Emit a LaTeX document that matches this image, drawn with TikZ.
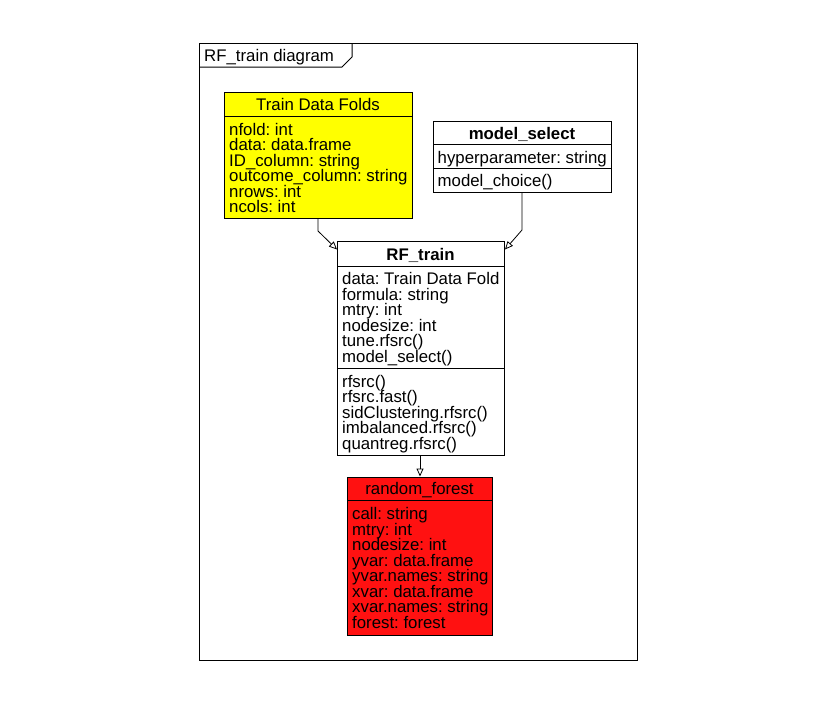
\documentclass[tikz,border=0pt]{standalone}
\usepackage{fontspec}
\setmainfont{Liberation Sans}
\usetikzlibrary{arrows.meta}
\definecolor{tdfyellow}{RGB}{255,255,0}
\definecolor{rfred}{RGB}{255,17,17}
\tikzset{
  box/.style={draw=black, line width=1pt, rectangle, inner sep=0pt, anchor=north west},
  sep/.style={draw=black, line width=1pt},
  txt/.style={inner sep=0pt, anchor=base west, font=\fontsize{16.8}{15.5}\selectfont\frenchspacing},
  ttl/.style={inner sep=0pt, anchor=base, font=\fontsize{16.8}{15.5}\selectfont\frenchspacing},
  bttl/.style={ttl, font=\fontsize{16.8}{15.5}\selectfont\bfseries},
  gen/.style={draw=black, line width=0.8pt, -{Triangle[open, length=8pt, width=7pt]}},
}
\begin{document}
\begin{tikzpicture}[x=1pt, y=-1pt]
\useasboundingbox (0,0) rectangle (834,702);
% frame
\node[draw=black, line width=1pt, rectangle, inner sep=0pt, anchor=north west, minimum width=438pt, minimum height=617pt] (frame) at (199,43) {};
\draw[line width=1pt] (199,67) -- (342,67) -- (352,57) -- (352,43);
\node[txt] (framelbl) at (204,61) {RF\_train diagram};

% Train Data Folds
\node[box, fill=tdfyellow, minimum width=188pt, minimum height=126pt] (tdf) at (224,92) {};
\draw[sep] (224,116) -- (412,116);
\node[ttl] (tdft) at (318,110.5) {Train Data Folds};
\foreach \t [count=\i] in {nfold: int, data: data.frame, ID\_column: string, outcome\_column: string, nrows: int, ncols: int}
  \node[txt] (tdf\i) at (229,{135+15.5*(\i-1)}) {\t};

% model_select
\node[box, fill=white, minimum width=178pt, minimum height=70.5pt] (ms) at (433,121) {};
\draw[sep] (433,144.5) -- (611,144.5);
\draw[sep] (433,168) -- (611,168);
\node[bttl] (mst) at (522,139) {model\_select};
\node[txt] (ms1) at (437.5,163) {hyperparameter: string};
\node[txt] (ms2) at (437.5,186.5) {model\_choice()};

% RF_train
\node[box, fill=white, minimum width=167pt, minimum height=213.5pt] (rft) at (337,241) {};
\draw[sep] (337,266) -- (504,266);
\draw[sep] (337,368) -- (504,368);
\node[bttl] (rftt) at (420.5,260.5) {RF\_train};
\foreach \t [count=\i] in {data: Train Data Fold, formula: string, mtry: int, nodesize: int, tune.rfsrc(), model\_select()}
  \node[txt] (rfa\i) at (342,{284.5+15.5*(\i-1)}) {\t};
\foreach \t [count=\i] in {rfsrc(), rfsrc.fast(), sidClustering.rfsrc(), imbalanced.rfsrc(), quantreg.rfsrc()}
  \node[txt] (rfm\i) at (342,{387+15.5*(\i-1)}) {\t};

% random_forest
\node[box, fill=rfred, minimum width=145pt, minimum height=158pt] (rf) at (347,476.5) {};
\draw[sep] (347,500.5) -- (492,500.5);
\node[ttl] (rft2) at (419.5,494.5) {random\_forest};
\foreach \t [count=\i] in {call: string, mtry: int, nodesize: int, yvar: data.frame, yvar.names: string, xvar: data.frame, xvar.names: string, forest: forest}
  \node[txt] (rfv\i) at (352,{519.5+15.5*(\i-1)}) {\t};

% connectors
\coordinate (k1) at (318,231);
\coordinate (h1) at (0,249.5);
\coordinate (k2) at (522,230);
\coordinate (k3) at (420,0);
\draw[gen] (tdf.south -| k1) -- (k1) -- (rft.west |- h1);
\draw[gen] (ms.south -| k2) -- (k2) -- (rft.east |- h1);
\draw[gen] (rft.south -| k3) -- (rf.north -| k3);
\end{tikzpicture}
\end{document}
